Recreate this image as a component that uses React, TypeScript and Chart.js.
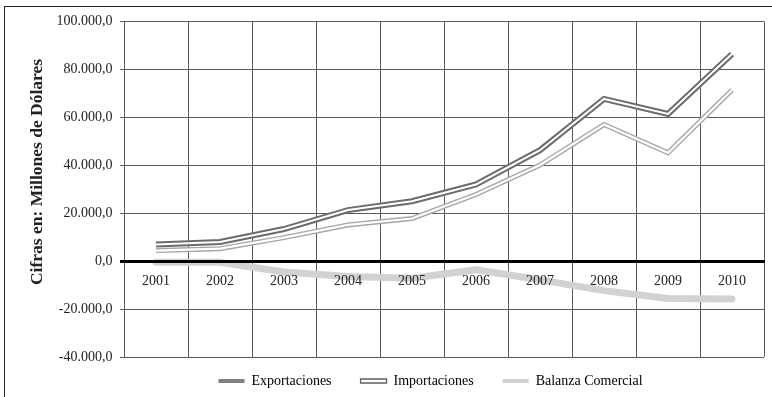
import React, { useEffect, useRef } from 'react';
import { Chart, registerables } from 'chart.js';

Chart.register(...registerables);

const YEARS = ['2001', '2002', '2003', '2004', '2005', '2006', '2007', '2008', '2009', '2010'];
const EXPORTACIONES = [4400, 5200, 9800, 15100, 17800, 27800, 40100, 57000, 45200, 71400];
const IMPORTACIONES = [6900, 8000, 13400, 21300, 25000, 32000, 46300, 67700, 61400, 86400];
const BALANZA = [-500, -500, -4500, -6400, -7100, -3600, -7800, -12300, -15600, -15800];
const SERIES_NAMES = ['Exportaciones', 'Importaciones', 'Balanza Comercial'];
const Y_TITLE = 'Cifras en: Millones de Dólares';
const Y_MIN = -40000;
const Y_MAX = 100000;
const Y_STEP = 20000;

const FONT = '"Liberation Serif", "Times New Roman", serif';

function fmt(v: number): string {
  const s = Math.abs(v).toFixed(0).replace(/\B(?=(\d{3})+(?!\d))/g, '.');
  return (v < 0 ? '-' : '') + s + ',0';
}

const legendShift = {
  id: 'legendShift',
  afterLayout(chart: any) {
    const l = chart.legend;
    if (l) {
      l.top -= 12;
      l.bottom -= 12;
      l.left += 48.5;
      l.right += 48.5;
    }
  },
};

const yTitlePlugin = {
  id: 'yTitlePlugin',
  afterDraw(chart: any) {
    const ctx = chart.ctx;
    ctx.save();
    ctx.translate(37, 172);
    ctx.rotate(-Math.PI / 2);
    ctx.font = 'bold 17.5px ' + FONT;
    ctx.fillStyle = '#222';
    ctx.textAlign = 'center';
    ctx.textBaseline = 'middle';
    ctx.fillText(Y_TITLE, 0, 0);
    ctx.restore();
  },
};

export default function App() {
  const ref = useRef<HTMLCanvasElement>(null);

  useEffect(() => {
    if (!ref.current) return;
    const common = { pointRadius: 0, tension: 0, fill: false };
    const chart = new Chart(ref.current, {
      type: 'line',
      data: {
        labels: YEARS,
        datasets: [
          { ...common, label: SERIES_NAMES[2], data: BALANZA, borderColor: '#d2d2d2', borderWidth: 7, borderCapStyle: 'round', borderJoinStyle: 'round', order: 5 },
          { ...common, label: SERIES_NAMES[0], data: EXPORTACIONES, borderColor: '#a6a6a6', borderWidth: 5, order: 4 },
          { ...common, label: SERIES_NAMES[0] + ' ', data: EXPORTACIONES, borderColor: '#ffffff', borderWidth: 2.2, order: 3 },
          { ...common, label: SERIES_NAMES[1], data: IMPORTACIONES, borderColor: '#6b6b6b', borderWidth: 6, order: 2 },
          { ...common, label: SERIES_NAMES[1] + ' ', data: IMPORTACIONES, borderColor: '#ffffff', borderWidth: 2, order: 1 },
        ] as any,
      },
      options: {
        responsive: false,
        animation: false,
        devicePixelRatio: 1,
        events: [],
        layout: { padding: { left: 0, right: 8, top: 21.5, bottom: -13 } },
        scales: {
          x: {
            type: 'category',
            position: { y: 0 } as any,
            offset: true,
            grid: { display: true, offset: true, color: '#5a5a5a', lineWidth: 1, drawTicks: false },
            border: { display: true, color: '#000', width: 3, z: 1 } as any,
            ticks: {
              z: 1,
              padding: 12,
              maxRotation: 0,
              autoSkip: false,
              color: '#222',
              font: { family: FONT, size: 14 },
            },
          },
          y: {
            type: 'linear',
            min: Y_MIN,
            max: Y_MAX,
            afterFit: (scale: any) => { scale.width = 124; },
            grid: {
              color: (c: any) => (c.tick && c.tick.value === 0 ? '#000' : '#5a5a5a'),
              lineWidth: (c: any) => (c.tick && c.tick.value === 0 ? 3 : 1),
              tickLength: 4,
            },
            border: { display: true, color: '#5a5a5a', width: 1 },
            ticks: {
              stepSize: Y_STEP,
              padding: 7.5,
              color: '#222',
              font: { family: FONT, size: 14 },
              callback: (v: any) => fmt(Number(v)),
            },
          },
        },
        plugins: {
          tooltip: { enabled: false },
          title: { display: false },
          legend: {
            display: true,
            position: 'bottom',
            labels: {
              boxWidth: 26,
              boxHeight: 4,
              padding: 29,
              color: '#222',
              font: { family: FONT, size: 14 },
              generateLabels: () => [
                { text: SERIES_NAMES[0], fillStyle: '#808080', strokeStyle: '#808080', lineWidth: 0, hidden: false, datasetIndex: 1 },
                { text: SERIES_NAMES[1], fillStyle: '#ffffff', strokeStyle: '#5f5f5f', lineWidth: 1.3, hidden: false, datasetIndex: 3 },
                { text: SERIES_NAMES[2], fillStyle: '#d0d0d0', strokeStyle: '#d0d0d0', lineWidth: 0, hidden: false, datasetIndex: 0 },
              ] as any,
            },
          },
        },
      } as any,
      plugins: [legendShift, yTitlePlugin],
    });
    return () => chart.destroy();
  }, []);

  return (
    <div style={{ position: 'fixed', left: 0, top: 0, width: 772, height: 397, overflow: 'hidden', background: '#fff' }}>
      <canvas ref={ref} width={772} height={397} style={{ position: 'absolute', left: 0, top: 0, width: 772, height: 397 }} />
      <div style={{ position: 'absolute', left: 4, top: 6, width: 800, height: 420, border: '1px solid #222', pointerEvents: 'none' }} />
    </div>
  );
}
